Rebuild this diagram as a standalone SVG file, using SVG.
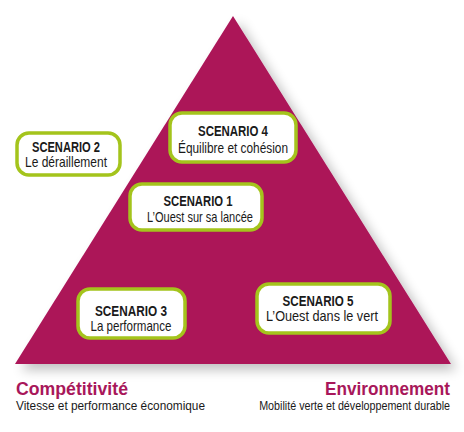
<svg xmlns="http://www.w3.org/2000/svg" width="464" height="432" viewBox="0 0 464 432">
<defs>
<filter id="sh" x="-10%" y="-10%" width="130%" height="130%">
<feGaussianBlur in="SourceAlpha" stdDeviation="6"/>
<feOffset dx="6" dy="6" result="b"/>
<feComponentTransfer><feFuncA type="linear" slope="0.25"/></feComponentTransfer>
<feMerge><feMergeNode/><feMergeNode in="SourceGraphic"/></feMerge>
</filter>
<style>
.box{fill:#fff;stroke:#A4C41C;stroke-width:3.5}
.t{font-family:"Liberation Sans",Arial,sans-serif;fill:#1a1a1a;text-anchor:middle}
.h{font-size:14.5px;font-weight:bold}
.s{font-size:14.5px}
.ax{font-family:"Liberation Sans",Arial,sans-serif;font-size:19px;font-weight:bold;fill:#A8175A}
.sub{font-family:"Liberation Sans",Arial,sans-serif;font-size:13.5px;fill:#1a1a1a}
</style>
</defs>
<rect width="464" height="432" fill="#fff"/>
<g id="pyramid">
<polygon points="233,16 451,364 15,364" fill="#AC1458" filter="url(#sh)"/>
</g>
<g id="connectors"></g>
<g id="scenario4">
<rect class="box" x="170" y="113" width="126" height="49" rx="12"/>
<text class="t h" x="233" y="136" textLength="70" lengthAdjust="spacingAndGlyphs">SCENARIO 4</text>
<text class="t s" x="233" y="153" textLength="110" lengthAdjust="spacingAndGlyphs">Équilibre et cohésion</text>
</g>
<g id="scenario2">
<rect class="box" x="17" y="133" width="103" height="42" rx="12"/>
<text class="t h" x="66" y="152" textLength="68" lengthAdjust="spacingAndGlyphs">SCENARIO 2</text>
<text class="t s" x="66" y="167" textLength="82" lengthAdjust="spacingAndGlyphs">Le déraillement</text>
</g>
<g id="scenario1">
<rect class="box" x="130" y="184" width="132" height="46" rx="12"/>
<text class="t h" x="198" y="206" textLength="69" lengthAdjust="spacingAndGlyphs">SCENARIO 1</text>
<text class="t s" x="200" y="222" textLength="106" lengthAdjust="spacingAndGlyphs">L’Ouest sur sa lancée</text>
</g>
<g id="scenario3">
<rect class="box" x="78" y="289" width="107" height="49" rx="12"/>
<text class="t h" x="131" y="316" textLength="72" lengthAdjust="spacingAndGlyphs">SCENARIO 3</text>
<text class="t s" x="131" y="331" textLength="81" lengthAdjust="spacingAndGlyphs">La performance</text>
</g>
<g id="scenario5">
<rect class="box" x="257" y="284" width="133" height="49" rx="12"/>
<text class="t h" x="318" y="306" textLength="71" lengthAdjust="spacingAndGlyphs">SCENARIO 5</text>
<text class="t s" x="322" y="321" textLength="112" lengthAdjust="spacingAndGlyphs">L’Ouest dans le vert</text>
</g>
<g id="axis-left">
<text class="ax" x="16" y="395" textLength="112" lengthAdjust="spacingAndGlyphs">Compétitivité</text>
<text class="sub" x="16" y="410" textLength="189" lengthAdjust="spacingAndGlyphs">Vitesse et performance économique</text>
</g>
<g id="axis-right">
<text class="ax" x="325" y="395" textLength="125" lengthAdjust="spacingAndGlyphs">Environnement</text>
<text class="sub" transform="translate(450,410) scale(0.795,1)" text-anchor="end">Mobilité verte et développement durable</text>
</g>
</svg>
